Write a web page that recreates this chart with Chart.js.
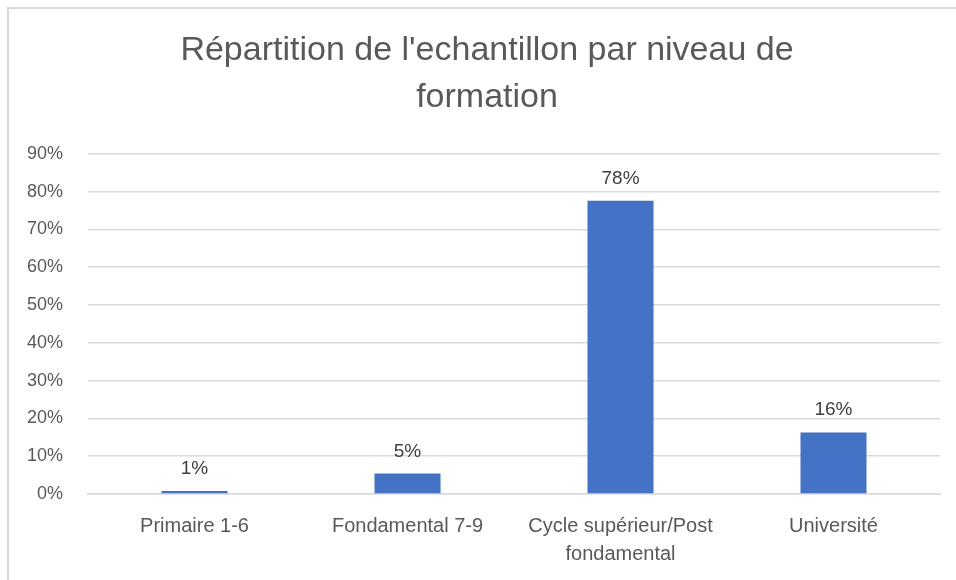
<!DOCTYPE html>
<html>
<head>
<meta charset="utf-8">
<script src="https://cdn.jsdelivr.net/npm/chart.js@4.4.0/dist/chart.umd.min.js"></script>
<style>
  html, body { margin: 0; padding: 0; background: #fff; }
  #cadre {
    position: absolute; left: 7px; top: 7px; width: 949px; height: 573px;
    border-left: 2px solid #d9d9d9; border-top: 2px solid #d9d9d9; box-sizing: border-box;
  }
  #wrap { position: absolute; left: 0; top: 0; width: 956px; height: 580px; }
</style>
</head>
<body>
<div id="cadre"></div>
<div id="wrap"><canvas id="graphique"></canvas></div>
<script>
"use strict";

// Données
const categories = ["Primaire 1-6", "Fondamental 7-9", ["Cycle supérieur/Post", "fondamental"], "Université"];
const valeurs = [0.8, 5.4, 77.6, 16.3];
const etiquettes = ["1%", "5%", "78%", "16%"];
const ticksY = [0, 10, 20, 30, 40, 50, 60, 70, 80, 90];

const police = "'Liberation Sans', Lato, sans-serif";

// Étiquettes au-dessus des barres
const pluginEtiquettes = {
  id: "etiquettes",
  afterDatasetsDraw(chart) {
    const ctx = chart.ctx;
    const meta = chart.getDatasetMeta(0);
    ctx.save();
    ctx.fillStyle = "#404040";
    ctx.font = "19px " + police;
    ctx.textAlign = "center";
    ctx.textBaseline = "alphabetic";
    meta.data.forEach((barre, i) => {
      ctx.fillText(etiquettes[i], barre.x, barre.y - 17);
    });
    ctx.restore();
  },
};

// Le titre est centré un peu plus à droite que la zone du graphique
const pluginTitre = {
  id: "decalageTitre",
  afterLayout(chart) {
    if (chart.titleBlock) chart.titleBlock.left = 34;
  },
};

new Chart(document.getElementById("graphique"), {
  type: "bar",
  data: {
    labels: categories,
    datasets: [
      {
        data: valeurs,
        backgroundColor: "#4472c4",
        categoryPercentage: 1,
        barPercentage: 0.31,
      },
    ],
  },
  options: {
    responsive: true,
    maintainAspectRatio: false,
    animation: false,
    layout: { padding: { left: 2, right: 16, top: 8, bottom: -6 } },
    plugins: {
      legend: { display: false },
      tooltip: { enabled: false },
      title: {
        display: true,
        text: ["Répartition de l'echantillon par niveau de", "formation"],
        color: "#595959",
        font: { family: police, size: 34, weight: "normal", lineHeight: 1.38 },
        padding: { top: 19, bottom: 33 },
      },
    },
    scales: {
      y: {
        min: 0,
        max: 90,
        afterBuildTicks(axis) {
          axis.ticks = ticksY.map((v) => ({ value: v }));
        },
        grid: { color: "#d9d9d9", lineWidth: 1.5, drawTicks: false },
        border: { display: false },
        ticks: {
          color: "#595959",
          padding: 25,
          font: { family: police, size: 18 },
          callback: (v) => v + "%",
        },
      },
      x: {
        grid: { display: false, drawTicks: false },
        border: { color: "#d9d9d9", width: 1.5 },
        ticks: {
          color: "#595959",
          padding: 18,
          maxRotation: 0,
          font: { family: police, size: 20, lineHeight: 1.4 },
        },
      },
    },
  },
  plugins: [pluginEtiquettes, pluginTitre],
});
</script>
</body>
</html>
